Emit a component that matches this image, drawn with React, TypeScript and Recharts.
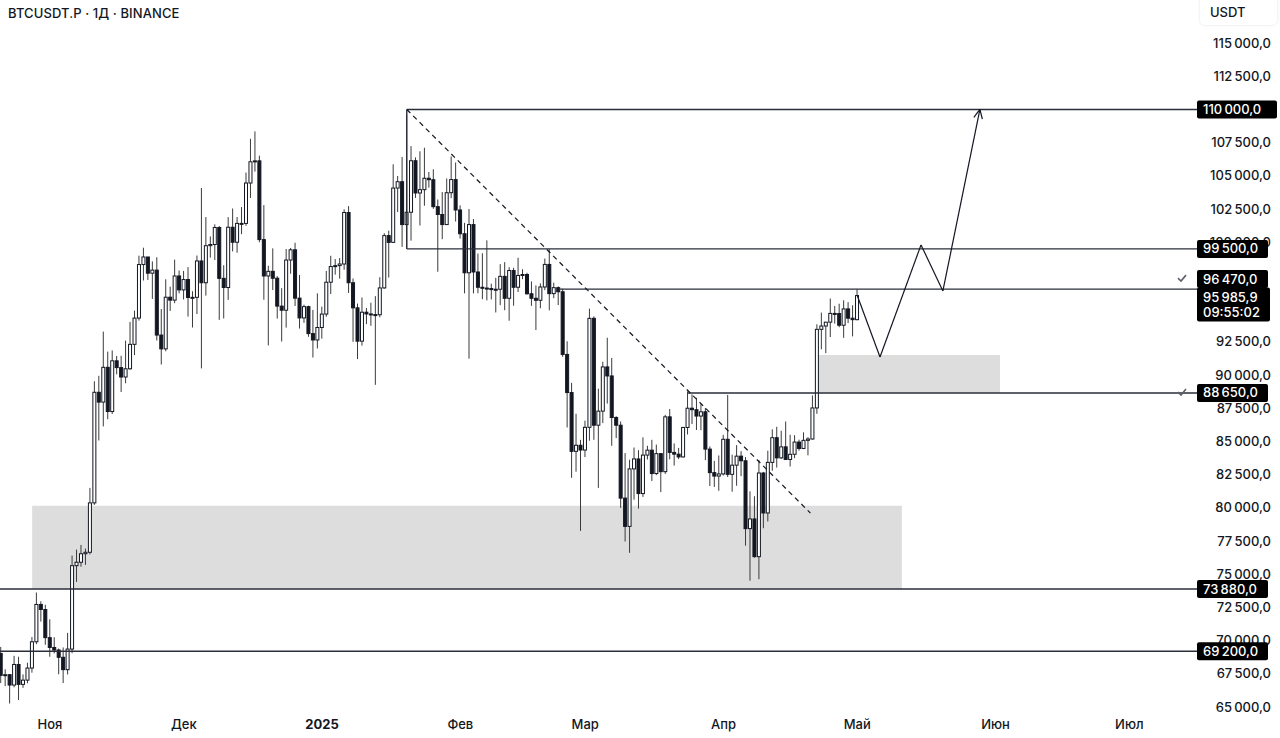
import React from "react";
import { ComposedChart, Bar, XAxis, YAxis, ReferenceLine, ReferenceArea } from "recharts";

// day index: 0 = 1 Nov 2024, first candle is 21 Oct 2024
const firstDay = -11;

// daily OHLC, Oct 21 2024 .. May 1 2025
const opens = [
  69030, 67380, 67430, 66650, 68200, 66700, 67020, 67930, 69910, 72720, 72340,
  70220, 69480, 69290, 68740, 67810, 69360, 75640, 75900, 76540, 76650, 80370, 88700, 87960, 90580, 87250, 91070, 90560, 89850, 90470, 92310, 94290, 98320, 98890, 97670, 97900, 93010, 91970, 95860, 95640, 97460,
  96410, 97190, 95840, 95850, 98590, 96950, 99740, 99830, 101110, 97280, 96590, 101130, 100000, 101420, 101420, 104460, 106060, 106130, 100200, 97460, 97810, 97290, 95190, 94880, 98660, 99430, 95790, 94300, 95150, 93120, 92640,
  93580, 94590, 96990, 98170, 98240, 98360, 102240, 96950, 95060, 92550, 94730, 94600, 94550, 94540, 96560, 100500, 99990, 104080, 104560, 101330, 102260, 106140, 103710, 103960, 104820, 104710, 102680, 102090, 101330, 103730, 104720,
  102430, 100640, 97700, 101330, 97760, 96610, 96550, 96510, 96440, 96460, 97430, 95780, 97870, 96610, 97500, 97570, 96120, 95780, 95630, 96630, 98330, 96130, 96580, 96270, 91550, 88680, 84250, 84710,
  84350, 86060, 94270, 86220, 87280, 90610, 89930, 86800, 86220, 80730, 78600, 82930, 83680, 81070, 83970, 84340, 82580, 84080, 82720, 86850, 84170, 84040, 83830, 86050, 87500, 87390, 86910, 87230, 84420, 82650, 82390,
  82550, 85160, 82520, 83210, 83890, 83540, 78430, 79160, 76320, 82620, 79610, 83420, 85280, 83760, 84590, 83640, 84030, 84950, 84470, 85080, 85180, 87520, 93440, 93690, 93980, 94640, 94630, 93750, 94980, 94280,
  94170,
];
const highs = [
  69520, 67840, 67470, 68850, 68780, 67450, 68330, 70270, 73620, 72960, 72700,
  71600, 70250, 69400, 69480, 70580, 76400, 76850, 77200, 76930, 81500, 89530, 89940, 93270, 91760, 91850, 91440, 91450, 92590, 94000, 94850, 98990, 99590, 98890, 98560, 98870, 94970, 97210, 96650, 98690, 97870,
  97840, 98130, 96310, 99000, 104090, 101900, 100440, 101350, 101220, 98270, 101890, 102540, 101900, 102650, 105250, 107790, 108350, 106520, 102800, 98230, 99540, 97450, 96540, 99490, 99570, 99960, 97540, 95300, 95220, 94900, 96150,
  95150, 97840, 98980, 98730, 98810, 102480, 102720, 97270, 95380, 95840, 95050, 95450, 95940, 97370, 100680, 100870, 105870, 104990, 106420, 109590, 107240, 106390, 106850, 107120, 105290, 105500, 103220, 103780, 104800, 106460, 106010,
  102780, 101460, 102500, 101750, 99150, 99170, 100140, 96880, 97320, 98350, 98500, 98120, 98080, 98830, 97970, 97700, 97050, 96750, 96900, 98770, 99480, 96960, 96670, 96500, 92540, 89410, 87080, 85120,
  86560, 95000, 94420, 88970, 91000, 92810, 91280, 86900, 86500, 84120, 83620, 84540, 84340, 85310, 84670, 85120, 84760, 84080, 87000, 87440, 84850, 84510, 86090, 88770, 88540, 88280, 87790, 87520, 84620, 83530, 83940,
  85490, 88500, 84000, 84720, 84270, 83820, 81240, 80870, 83590, 82700, 84300, 85910, 86100, 85800, 86500, 85500, 85470, 85130, 85680, 85320, 88460, 93820, 94700, 94000, 95760, 95200, 95370, 95630, 95490, 95250,
  96470,
];
const lows = [
  66800, 66570, 65260, 66480, 65520, 66440, 66780, 67580, 69730, 71430, 69680,
  68780, 69030, 67460, 66800, 67450, 69050, 74420, 75560, 75700, 76490, 80220, 85070, 86130, 86670, 87070, 90050, 88720, 89380, 90400, 91500, 94100, 97120, 97160, 95730, 92600, 90790, 91790, 94830, 95410, 96150,
  95690, 94400, 93580, 94590, 90500, 95980, 98840, 98660, 94150, 94260, 95660, 99310, 99210, 100610, 101240, 103330, 105320, 100000, 95670, 92230, 96400, 94250, 92520, 93570, 97630, 95200, 93500, 93930, 92880, 91320, 92000,
  92740, 94390, 96100, 97560, 97260, 97930, 96180, 92500, 91200, 92210, 93830, 93710, 89260, 94350, 96500, 97340, 99950, 102280, 99650, 99550, 100120, 103340, 101260, 102750, 104110, 102520, 97780, 100230, 101330, 103320, 101560,
  100280, 96150, 91230, 96150, 96160, 95710, 95620, 95690, 94710, 95260, 94880, 94090, 95220, 96250, 97220, 96050, 95210, 93390, 95030, 96390, 94870, 95790, 95270, 91370, 86050, 82260, 82720, 78260,
  83820, 85050, 85120, 81500, 86380, 87850, 84670, 85250, 80000, 77460, 76610, 80610, 79940, 80820, 83640, 82020, 82460, 81180, 82550, 83650, 83180, 83670, 83790, 85520, 86310, 85860, 85840, 83590, 81640, 81570, 81280,
  82430, 82320, 81210, 81660, 82380, 77150, 74510, 76240, 74620, 78460, 78970, 82790, 83030, 83680, 83600, 83110, 83740, 84300, 84420, 83950, 85140, 87080, 91940, 91650, 92860, 93870, 93600, 92800, 93910, 92910,
  94120,
];
const closes = [
  67380, 67430, 66650, 68200, 66700, 67020, 67930, 69910, 72720, 72340, 70220,
  69480, 69290, 68740, 67810, 69360, 75640, 75900, 76540, 76650, 80370, 88700, 87960, 90580, 87250, 91070, 90560, 89850, 90470, 92310, 94290, 98320, 98890, 97670, 97900, 93010, 91970, 95860, 95640, 97460, 96410,
  97190, 95840, 95850, 98590, 96950, 99740, 99830, 101110, 97280, 96590, 101130, 100000, 101420, 101420, 104460, 106060, 106130, 100200, 97460, 97810, 97290, 95190, 94880, 98660, 99430, 95790, 94300, 95150, 93120, 92640, 93580,
  94590, 96990, 98170, 98240, 98360, 102240, 96950, 95060, 92550, 94730, 94600, 94550, 94540, 96560, 100500, 99990, 104080, 104560, 101330, 102260, 106140, 103710, 103960, 104820, 104710, 102680, 102090, 101330, 103730, 104720, 102430,
  100640, 97700, 101330, 97760, 96610, 96550, 96510, 96440, 96460, 97430, 95780, 97870, 96610, 97500, 97570, 96120, 95780, 95630, 96630, 98330, 96130, 96580, 96270, 91550, 88680, 84250, 84710, 84350,
  86060, 94270, 86220, 87280, 90610, 89930, 86800, 86220, 80730, 78600, 82930, 83680, 81070, 83970, 84340, 82580, 84080, 82720, 86850, 84170, 84040, 83830, 86050, 87500, 87390, 86910, 87230, 84420, 82650, 82390, 82550,
  85160, 82520, 83210, 83890, 83540, 78430, 79160, 76320, 82620, 79610, 83420, 85280, 83760, 84590, 83640, 84030, 84950, 84470, 85080, 85180, 87520, 93440, 93690, 93980, 94640, 94630, 93750, 94980, 94280, 94170,
  95985.9,
];

const monthTicks = [0, 30, 61, 92, 120, 151, 181, 212, 242];
const monthLabels = ["Ноя", "Дек", "2025", "Фев", "Мар", "Апр", "Май", "Июн", "Июл"];
const priceTicks = [65000, 67500, 70000, 72500, 75000, 77500, 80000, 82500, 85000, 87500, 90000, 92500, 100000, 102500, 105000, 107500, 112500, 115000];

// horizontal levels drawn on the chart
const levelPrices = [110000, 99500, 96470, 88650, 73880, 69200];
const levelStarts: (number | null)[] = [80, 80, 114, 143, null, null];
const levelAlerts = [false, false, true, true, false, false];

// zones
const zones = [
  { from: -4, to: 191, low: 73880, high: 80150 },
  { from: 172, to: 213, low: 88650, high: 91500 },
];

// dashed trend line
const trendLine = [{ x: 80, y: 110000 }, { x: 170.5, y: 79600 }];

// projected path
const pathDays = [181, 186.1, 195.3, 200.2, 208.5];
const pathPrices = [95990, 91360, 99800, 96330, 110000];

const timerText = "09:55:02";

const W = 1280;
const H = 738;
const PLOT_RIGHT = 1198;
const X_DOMAIN: [number, number] = [-11.21, 257.4];
const Y_DOMAIN: [number, number] = [64620, 118245];
const FONT = "Inter, 'Noto Sans', sans-serif";
const INK = "#131722";

const candles = opens.map((o, i) => ({ d: firstDay + i, o, h: highs[i], l: lows[i], c: closes[i] }));
const lastPrice = closes[closes.length - 1];

const fmt = (v: number) => {
  const [i, f] = v.toFixed(1).split(".");
  return i.replace(/\B(?=(\d{3})+(?!\d))/g, "\u202F") + "," + f;
};

const Candle = (props: any) => {
  const { x, y, width, height, payload } = props;
  if (x == null || y == null || !payload) return null;
  const { o, h, l, c } = payload;
  const cx = x + width / 2;
  const k = h === l ? 0 : height / (h - l);
  const yO = y + (h - o) * k;
  const yC = y + (h - c) * k;
  const up = c >= o;
  const top = Math.min(yO, yC);
  const bh = Math.max(Math.abs(yC - yO), 1);
  return (
    <g>
      <line x1={cx} x2={cx} y1={y} y2={y + height} stroke="#3b3b3b" strokeWidth={1} />
      <rect x={cx - 1.5} y={top} width={3} height={bh} fill={up ? "#ffffff" : INK} stroke={INK} strokeWidth={1} />
    </g>
  );
};

const MonthTick = (props: any) => {
  const { x, y, payload } = props;
  const idx = monthTicks.indexOf(payload.value);
  const label = monthLabels[idx] ?? "";
  return (
    <text x={x} y={y + 12} dy="0.35em" textAnchor="middle" fill={INK} fontSize={13} fontWeight={label === "2025" ? 700 : 500} fontFamily={FONT}>
      {label}
    </text>
  );
};

const Check = ({ x, y }: { x: number; y: number }) => (
  <path d={`M${x - 4} ${y} L${x - 1} ${y + 3} L${x + 4} ${y - 3}`} fill="none" stroke="#5d606b" strokeWidth={1.6} />
);

// one renderer for the price scale: plain labels and the black level badges
const ScaleTick = (props: any) => {
  const { y, payload } = props;
  const v = payload.value;
  const x0 = PLOT_RIGHT - 1;
  if (v === lastPrice) {
    return (
      <g>
        <rect x={x0} y={y - 8} width={73} height={34} rx={2} fill="#000" />
        <text x={x0 + 6} y={y + 1.5} dy="0.35em" fill="#fff" fontSize={13} fontWeight={500} fontFamily={FONT}>{fmt(v)}</text>
        <text x={x0 + 6} y={y + 16.5} dy="0.35em" fill="#fff" fontSize={13} fontWeight={500} fontFamily={FONT}>{timerText}</text>
      </g>
    );
  }
  const i = levelPrices.indexOf(v);
  if (i < 0) {
    return (
      <text x={1271} y={y} dy="0.35em" textAnchor="end" fill={INK} fontSize={13} fontWeight={500} fontFamily={FONT}>
        {fmt(v)}
      </text>
    );
  }
  const shift = v === 96470 ? -10 : 0;
  const w = v >= 100000 ? 80 : 71;
  return (
    <g>
      <rect x={x0} y={y + shift - 9} width={w} height={18} rx={2} fill="#000" />
      <text x={x0 + 6} y={y + shift} dy="0.35em" fill="#fff" fontSize={13} fontWeight={500} fontFamily={FONT}>{fmt(v)}</text>
      {levelAlerts[i] && <Check x={1182} y={y + shift - 1} />}
    </g>
  );
};

const ArrowLine = (props: any) => {
  const { x1, y1, x2, y2 } = props;
  const a = Math.atan2(y1 - y2, x1 - x2);
  const len = 10;
  const s = 0.45;
  return (
    <g>
      <line x1={x1} y1={y1} x2={x2} y2={y2} stroke={INK} strokeWidth={1.2} />
      <line x1={x2} y1={y2} x2={x2 + len * Math.cos(a + s)} y2={y2 + len * Math.sin(a + s)} stroke={INK} strokeWidth={1.2} />
      <line x1={x2} y1={y2} x2={x2 + len * Math.cos(a - s)} y2={y2 + len * Math.sin(a - s)} stroke={INK} strokeWidth={1.2} />
    </g>
  );
};

export default function App() {
  const scaleTicks = [...priceTicks, ...levelPrices, lastPrice];
  return (
    <div style={{ position: "absolute", left: 0, top: 0, width: W, height: H, background: "#fff", overflow: "hidden", fontFamily: FONT }}>
      <ComposedChart width={W} height={H} data={candles} margin={{ top: 0, right: 0, bottom: 0, left: 0 }}>
        <XAxis
          type="number"
          dataKey="d"
          domain={X_DOMAIN}
          allowDataOverflow
          ticks={monthTicks}
          interval={0}
          axisLine={false}
          tickLine={false}
          tickSize={0}
          tickMargin={0}
          height={26}
          tick={(p: any) => <MonthTick {...p} />}
        />
        <YAxis
          yAxisId="p"
          orientation="right"
          width={82}
          domain={Y_DOMAIN}
          allowDataOverflow
          ticks={scaleTicks}
          interval={0}
          axisLine={false}
          tickLine={false}
          tickSize={0}
          tickMargin={0}
          tick={(p: any) => <ScaleTick {...p} />}
        />
        {zones.map((z, i) => (
          <ReferenceArea key={`z${i}`} yAxisId="p" x1={z.from} x2={z.to} y1={z.low} y2={z.high} fill="#dddddd" fillOpacity={1} stroke="none" ifOverflow="hidden" />
        ))}
        <Bar yAxisId="p" dataKey={(e: any) => [e.l, e.h]} barSize={4} isAnimationActive={false} shape={(p: any) => <Candle {...p} />} />
        {levelPrices.map((p, i) =>
          levelStarts[i] == null ? (
            <ReferenceLine key={`l${i}`} yAxisId="p" y={p} stroke="#2a2e39" strokeWidth={1.4} />
          ) : (
            <ReferenceLine
              key={`l${i}`}
              yAxisId="p"
              segment={[{ x: levelStarts[i] as number, y: p }, { x: X_DOMAIN[1], y: p }]}
              stroke="#2a2e39"
              strokeWidth={1.4}
              ifOverflow="hidden"
            />
          )
        )}
        <ReferenceLine yAxisId="p" segment={[{ x: levelStarts[0] as number, y: levelPrices[1] }, { x: levelStarts[0] as number, y: levelPrices[0] }]} stroke="#2a2e39" strokeWidth={1.4} />
        <ReferenceLine yAxisId="p" segment={trendLine} stroke={INK} strokeWidth={1.2} strokeDasharray="5 4" />
        {pathDays.slice(1).map((d, i) => {
          const seg = [{ x: pathDays[i], y: pathPrices[i] }, { x: d, y: pathPrices[i + 1] }];
          const last = i === pathDays.length - 2;
          return last ? (
            <ReferenceLine key={`p${i}`} yAxisId="p" segment={seg} stroke={INK} strokeWidth={1.2} shape={(sp: any) => <ArrowLine {...sp} />} />
          ) : (
            <ReferenceLine key={`p${i}`} yAxisId="p" segment={seg} stroke={INK} strokeWidth={1.2} />
          );
        })}
      </ComposedChart>
      <div style={{ position: "absolute", left: 8, top: 5, fontSize: 13, fontWeight: 500, color: INK, letterSpacing: 0.1 }}>
        BTCUSDT.P · 1Д · BINANCE
      </div>
      <div style={{ position: "absolute", left: 1200, top: -1, width: 77, height: 26, background: "#fff", borderRadius: "0 0 5px 5px", boxShadow: "0 0 3px rgba(0,0,0,0.12)", fontSize: 13, fontWeight: 500, color: INK, lineHeight: "26px", paddingLeft: 10, boxSizing: "border-box" }}>
        USDT
      </div>
    </div>
  );
}
